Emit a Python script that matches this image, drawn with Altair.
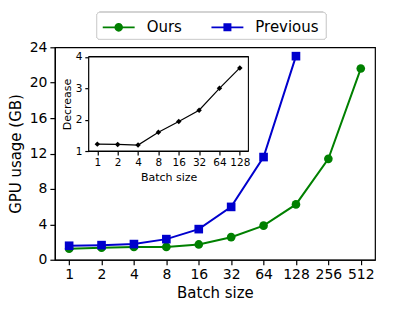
import altair as alt
import pandas as pd

batch = ["1", "2", "4", "8", "16", "32", "64", "128", "256", "512"]
ours = [1.25, 1.35, 1.45, 1.45, 1.73, 2.55, 3.85, 6.25, 11.4, 21.6]
prev_batch = ["1", "2", "4", "8", "16", "32", "64", "128"]
previous = [1.58, 1.65, 1.77, 2.33, 3.46, 5.97, 11.6, 23.0]

inset_batch = ["1", "2", "4", "8", "16", "32", "64", "128"]
decrease = [1.22, 1.21, 1.19, 1.6, 1.94, 2.3, 3.0, 3.65]

GREEN = "#008000"
BLUE = "#0000cd"
FONT = "DejaVu Sans"
SERIES = ["Ours", "Previous"]

main_df = pd.DataFrame(
    {"batch": batch + prev_batch,
     "gb": ours + previous,
     "series": ["Ours"] * len(ours) + ["Previous"] * len(previous)}
)
inset_df = pd.DataFrame({"batch": inset_batch, "dec": decrease})

W, H = 321, 213

xmain = alt.X("batch:O", sort=batch,
              scale=alt.Scale(type="point", padding=0.44, domain=batch),
              axis=alt.Axis(title="Batch size", labelAngle=0, orient="bottom",
                            labelFontSize=14, titleFontSize=15, tickSize=5,
                            titlePadding=4, labelPadding=3))
ymain = alt.Y("gb:Q", scale=alt.Scale(domain=[0, 24], nice=False),
              axis=alt.Axis(title="GPU usage (GB)", values=[0, 4, 8, 12, 16, 20, 24],
                            orient="left", labelFontSize=14, titleFontSize=15,
                            tickSize=5, grid=False, titlePadding=6, labelPadding=3))

cscale = alt.Scale(domain=SERIES, range=[GREEN, BLUE])

lines = alt.Chart(main_df).mark_line(strokeWidth=2).encode(
    x=xmain, y=ymain, color=alt.Color("series:N", legend=None, scale=cscale))
points = alt.Chart(main_df).mark_point(filled=True, opacity=1, size=75).encode(
    x=xmain, y=ymain,
    color=alt.Color("series:N", legend=None, scale=cscale),
    shape=alt.Shape("series:N", legend=None,
                    scale=alt.Scale(domain=SERIES, range=["circle", "square"])))

BAR = "M-1,-0.055L1,-0.055L1,0.055L-1,0.055Z"
CIRC = BAR + "M-0.27,0A0.27,0.27 0 1,1 0.27,0A0.27,0.27 0 1,1 -0.27,0Z"
SQR = BAR + "M-0.25,-0.25L0.25,-0.25L0.25,0.25L-0.25,0.25Z"


def legend_carrier(name, path, col, lx):
    leg = alt.Legend(title=None, orient="none", direction="horizontal",
                     legendX=lx, legendY=-36, labelFontSize=15, symbolSize=1024,
                     symbolStrokeWidth=0, symbolOpacity=1, symbolFillColor=col,
                     labelOffset=12, padding=0, labelColor="black")
    return alt.Chart(main_df).transform_filter(
        alt.datum.series == name
    ).mark_point(opacity=0, size=1, filled=True, fill=col).encode(
        x=xmain, y=ymain,
        shape=alt.Shape("series:N", scale=alt.Scale(domain=[name], range=[path]), legend=leg))


leg_box = alt.Chart(main_df).mark_rect(
    fill="white", stroke="#d0d0d0", strokeWidth=1, cornerRadius=3
).encode(x=alt.value(42), x2=alt.value(272), y=alt.value(-35), y2=alt.value(-8))

car1 = legend_carrier("Ours", CIRC, GREEN, 48)
car2 = legend_carrier("Previous", SQR, BLUE, 157)

main = alt.layer(leg_box, lines, points, car1, car2).resolve_scale(
    color="independent", shape="independent")

xin = alt.X("batch:O", sort=inset_batch,
            scale=alt.Scale(type="point", padding=0.42, domain=inset_batch, range=[34, 194]),
            axis=alt.Axis(title="Batch size", labelAngle=0, orient="bottom", offset=-109,
                          labelFontSize=10.5, titleFontSize=11, tickSize=4,
                          titlePadding=3, labelPadding=3, domain=False))
yin = alt.Y("dec:Q", scale=alt.Scale(domain=[1, 4], nice=False, range=[104, 9.7]),
            axis=alt.Axis(title="Decrease", values=[1, 2, 3, 4], orient="left", offset=-34,
                          labelFontSize=10.5, titleFontSize=11, tickSize=4, grid=False,
                          titlePadding=3, labelPadding=3, domain=False))

frame = alt.Chart(inset_df).mark_rect(fill="white", stroke="black", strokeWidth=1).encode(
    x=alt.value(34), x2=alt.value(194), y=alt.value(9.7), y2=alt.value(104))
inset_line = alt.Chart(inset_df).mark_line(color="black", strokeWidth=1.2).encode(x=xin, y=yin)
inset_pts = alt.Chart(inset_df).mark_point(shape="diamond", filled=True, color="black",
                                           opacity=1, size=30).encode(x=xin, y=yin)
inset = alt.layer(inset_line, inset_pts)

chart = alt.layer(main, frame, inset).resolve_scale(
    x="independent", y="independent"
).properties(
    width=W, height=H,
    autosize=alt.AutoSizeParams(type="none"),
    padding={"left": 47, "top": 39, "right": 12, "bottom": 56},
).configure(font=FONT).configure_view(stroke="black", strokeWidth=1.2).configure_axis(
    domainColor="black", tickColor="black", labelColor="black", titleColor="black",
    titleFontWeight="normal", domainWidth=1.2, tickWidth=1.2
)

chart.save("out.html", embed_options={"renderer": "svg", "actions": False})
